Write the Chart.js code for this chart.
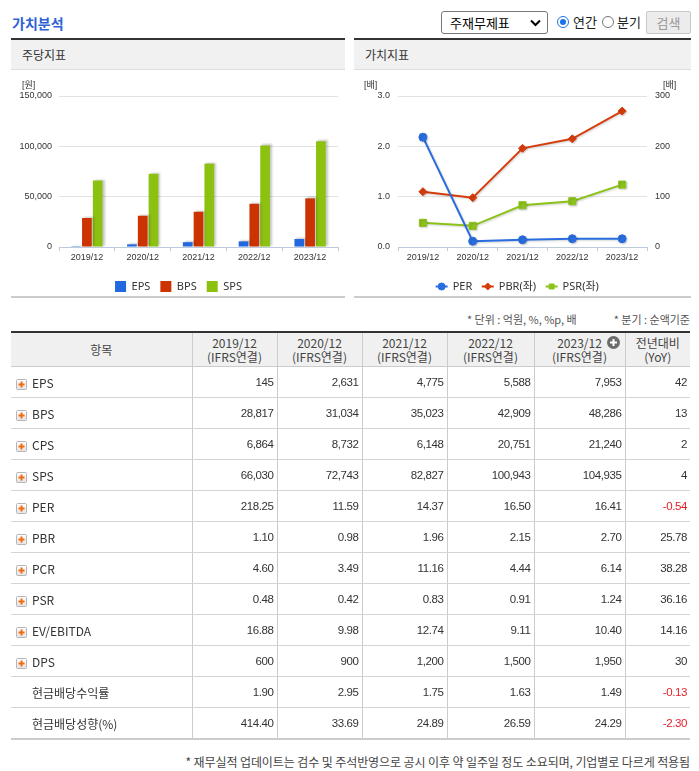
<!DOCTYPE html>
<html>
<head>
<meta charset="utf-8">
<script src="https://cdn.jsdelivr.net/npm/chart.js@4.4.1/dist/chart.umd.min.js"></script>
<style>
  body { margin: 0; background: #fff; font-family: "Noto Sans CJK KR", sans-serif; color: #333; }
  #wrap { position: relative; width: 699px; height: 771px; overflow: hidden; }
  .abs { position: absolute; }
  .title { left: 12px; top: 11px; font-size: 14px; font-weight: bold; color: #2f62d5; line-height: 24px; }
  .sel { left: 441px; top: 11px; width: 97px; height: 21px; border: 1px solid #777; border-radius: 3px;
         font-size: 13px; line-height: 21px; color: #000; padding-left: 8px; box-sizing: content-box; }
  .sel svg { position: absolute; right: 6px; top: 7px; }
  .radio { top: 16px; width: 10px; height: 10px; border-radius: 50%; border: 1px solid #767676; background: #fff; }
  .radio.on { border-color: #1a73e8; }
  .radio.on::after { content: ""; position: absolute; left: 2px; top: 2px; width: 6px; height: 6px; border-radius: 50%; background: #1a73e8; }
  .rlab { top: 11px; font-size: 13px; line-height: 22px; color: #222; }
  .btn { left: 646px; top: 11px; width: 43px; height: 21px; border: 1px solid #c8c8c8; border-radius: 2px;
         background: #ececec; color: #999; font-size: 13px; line-height: 21px; text-align: center; }
  .panel { top: 38px; height: 256px; border-top: 2px solid #333; border-bottom: 2px solid #ccc; }
  .panel .hd { height: 29px; background: #f1f1f1; border-bottom: 1px solid #dedede; font-size: 12px;
               line-height: 29px; padding-left: 11px; color: #333; }
  .panel canvas { position: absolute; left: 0; top: 30px; }
  .unit { font-size: 9px; color: #333; font-family: "Liberation Sans", "Noto Sans CJK KR", sans-serif; top: 79px; line-height: 12px; }
  .note { top: 311px; font-size: 11px; color: #555; line-height: 16px; white-space: nowrap; }
  table { position: absolute; left: 11px; top: 331px; width: 679px; border-collapse: collapse; table-layout: fixed;
          border-top: 2px solid #333; border-bottom: 2px solid #ccc; }
  th { background: #f0f0f0; font-weight: normal; font-size: 12px; line-height: 14px; height: 33px; padding: 0;
       border-bottom: 1px solid #ccc; border-left: 1px solid #ccc; color: #444; position: relative; }
  th:first-child { border-left: none; }
  td { height: 30px; padding: 0 3px 0 0; border-bottom: 1px solid #d4d4d4; border-left: 1px solid #ccc;
       text-align: right; font-family: "Liberation Sans", "Noto Sans CJK KR", sans-serif; font-size: 11.5px;
       letter-spacing: -0.4px; color: #333; }
  td:first-child { border-left: none; text-align: left; padding-left: 5px; font-family: "Noto Sans CJK KR", sans-serif;
                   font-size: 12px; letter-spacing: 0; }
  td.neg { color: #e4202a; }
  td .pl { display: inline-block; width: 11px; height: 11px; vertical-align: -2px; margin-right: 5px; }
  td .sp { display: inline-block; width: 16px; }
  .foot { right: 9px; top: 753px; font-size: 12px; letter-spacing: -0.1px; color: #444; line-height: 18px; white-space: nowrap; }
</style>
</head>
<body>
<div id="wrap">
  <div class="abs title">가치분석</div>
  <div class="abs sel">주재무제표<svg width="11" height="8" viewBox="0 0 11 8"><polyline points="1,1.5 5.5,6 10,1.5" fill="none" stroke="#000" stroke-width="2"/></svg></div>
  <div class="abs radio on" style="left:557px"></div>
  <div class="abs rlab" style="left:573px">연간</div>
  <div class="abs radio" style="left:602px"></div>
  <div class="abs rlab" style="left:617px">분기</div>
  <div class="abs btn">검색</div>

  <div class="abs panel" style="left:11px;width:334px">
    <div class="hd">주당지표</div>
    <canvas id="shareChart"></canvas>
  </div>
  <div class="abs unit" style="left:22px">[원]</div>

  <div class="abs panel" style="left:354px;width:337px">
    <div class="hd">가치지표</div>
    <canvas id="valueChart"></canvas>
  </div>
  <div class="abs unit" style="left:364px">[배]</div>
  <div class="abs unit" style="left:663px">[배]</div>

  <div class="abs note" style="left:467px">* 단위 : 억원, %, %p, 배</div>
  <div class="abs note" style="right:9px">* 분기 : 순액기준</div>

  <table id="tbl"></table>

  <div class="abs foot">* 재무실적 업데이트는 검수 및 주석반영으로 공시 이후 약 일주일 정도 소요되며, 기업별로 다르게 적용됨</div>
</div>

<script>
const years = ["2019/12", "2020/12", "2021/12", "2022/12", "2023/12"];
const epsValues = [145, 2631, 4775, 5588, 7953];
const bpsValues = [28817, 31034, 35023, 42909, 48286];
const spsValues = [66030, 72743, 82827, 100943, 104935];
const perValues = [218.25, 11.59, 14.37, 16.5, 16.41];
const pbrValues = [1.1, 0.98, 1.96, 2.15, 2.7];
const psrValues = [0.48, 0.42, 0.83, 0.91, 1.24];
const shareTicks = [0, 50000, 100000, 150000];
const ratioTicks = [0, 1, 2, 3];
const perTicks = [0, 100, 200, 300];

const colHeads = ["2019/12", "2020/12", "2021/12", "2022/12", "2023/12"];
const tableRows = [
  ["EPS", true, "145", "2,631", "4,775", "5,588", "7,953", "42"],
  ["BPS", true, "28,817", "31,034", "35,023", "42,909", "48,286", "13"],
  ["CPS", true, "6,864", "8,732", "6,148", "20,751", "21,240", "2"],
  ["SPS", true, "66,030", "72,743", "82,827", "100,943", "104,935", "4"],
  ["PER", true, "218.25", "11.59", "14.37", "16.50", "16.41", "-0.54"],
  ["PBR", true, "1.10", "0.98", "1.96", "2.15", "2.70", "25.78"],
  ["PCR", true, "4.60", "3.49", "11.16", "4.44", "6.14", "38.28"],
  ["PSR", true, "0.48", "0.42", "0.83", "0.91", "1.24", "36.16"],
  ["EV/EBITDA", true, "16.88", "9.98", "12.74", "9.11", "10.40", "14.16"],
  ["DPS", true, "600", "900", "1,200", "1,500", "1,950", "30"],
  ["현금배당수익률", false, "1.90", "2.95", "1.75", "1.63", "1.49", "-0.13"],
  ["현금배당성향(%)", false, "414.40", "33.69", "24.89", "26.59", "24.29", "-2.30"]
];

const tickFont = { family: "'Liberation Sans', 'Noto Sans CJK KR', sans-serif", size: 9 };
const legendFont = { family: "'Noto Sans', 'Noto Sans CJK KR', sans-serif", size: 11 };
const axisColor = "#bccbdb";
const gridColor = "#e2e2e2";

// soft shadow behind bars and lines
const shadow = {
  id: "shadow",
  beforeDatasetsDraw(chart, args, opts) {
    const c = chart.ctx;
    c.save();
    c.shadowColor = opts.color;
    c.shadowBlur = opts.blur;
    c.shadowOffsetX = opts.x;
    c.shadowOffsetY = opts.y;
  },
  afterDatasetsDraw(chart) {
    chart.ctx.restore();
  }
};

// short line segment behind each legend marker
const legendLines = {
  id: "legendLines",
  beforeDraw(chart) {
    const lg = chart.legend;
    if (!lg || !lg.legendHitBoxes) return;
    const c = chart.ctx;
    lg.legendHitBoxes.forEach((b, i) => {
      const ds = chart.data.datasets[i];
      const cx = b.left + 5.5, cy = b.top + 5.5;
      c.save();
      c.strokeStyle = ds.borderColor;
      c.lineWidth = 2;
      c.beginPath();
      c.moveTo(cx - 6, cy);
      c.lineTo(cx + 6, cy);
      c.stroke();
      c.restore();
    });
  }
};

function setTicks(list) {
  return axis => { axis.ticks = list.map(v => ({ value: v })); };
}

function xScale() {
  return {
    offset: true,
    border: { color: axisColor },
    grid: { offset: true, drawOnChartArea: false, color: axisColor, tickLength: 4 },
    ticks: { font: tickFont, color: "#333", padding: 1, maxRotation: 0 },
    afterFit: s => { s.height = 24; }
  };
}

function sizeCanvas(id, w, h) {
  const cv = document.getElementById(id);
  cv.style.width = w + "px";
  cv.style.height = h + "px";
  cv.width = w;
  cv.height = h;
  return cv;
}

new Chart(sizeCanvas("shareChart", 334, 232), {
  type: "bar",
  data: {
    labels: years,
    datasets: [
      { label: "EPS", data: epsValues, backgroundColor: "#2167de" },
      { label: "BPS", data: bpsValues, backgroundColor: "#cc3300" },
      { label: "SPS", data: spsValues, backgroundColor: "#8cc20f" }
    ]
  },
  plugins: [shadow],
  options: {
    responsive: false,
    animation: false,
    devicePixelRatio: 1,
    layout: { padding: { top: 26, left: 8, right: 7, bottom: 0 } },
    datasets: { bar: { barPercentage: 0.9, categoryPercentage: 0.58 } },
    scales: {
      x: xScale(),
      y: {
        min: 0,
        max: 150000,
        border: { display: false },
        grid: { color: gridColor, drawTicks: false },
        ticks: { font: tickFont, color: "#333", padding: 7, callback: v => v.toLocaleString("en-US") },
        afterBuildTicks: setTicks(shareTicks),
        afterFit: s => { s.width = 40; }
      }
    },
    plugins: {
      shadow: { color: "rgba(0,0,0,0.22)", blur: 2, x: 2, y: -1 },
      tooltip: { enabled: false },
      legend: {
        position: "bottom",
        labels: { font: legendFont, color: "#333", boxWidth: 11, boxHeight: 11, padding: 10 }
      }
    }
  }
});

new Chart(sizeCanvas("valueChart", 337, 232), {
  type: "line",
  data: {
    labels: years,
    datasets: [
      { label: "PER", data: perValues, yAxisID: "yR", borderColor: "#2a6ddf", backgroundColor: "#2a6ddf",
        pointStyle: "circle", pointRadius: 4 },
      { label: "PBR(좌)", data: pbrValues, yAxisID: "y", borderColor: "#d63c0c", backgroundColor: "#d63c0c",
        pointStyle: "rectRot", pointRadius: 4 },
      { label: "PSR(좌)", data: psrValues, yAxisID: "y", borderColor: "#8dc21c", backgroundColor: "#8dc21c",
        pointStyle: "rect", pointRadius: 5 }
    ]
  },
  plugins: [shadow, legendLines],
  options: {
    responsive: false,
    animation: false,
    devicePixelRatio: 1,
    layout: { padding: { top: 26, left: 4, right: 14, bottom: 0 } },
    elements: { line: { borderWidth: 2, tension: 0 }, point: { borderWidth: 1 } },
    scales: {
      x: xScale(),
      y: {
        position: "left",
        min: 0,
        max: 3,
        border: { display: false },
        grid: { color: gridColor, drawTicks: false },
        ticks: { font: tickFont, color: "#333", padding: 8, callback: v => v.toFixed(1) },
        afterBuildTicks: setTicks(ratioTicks),
        afterFit: s => { s.width = 40; }
      },
      yR: {
        position: "right",
        min: 0,
        max: 300,
        border: { display: false },
        grid: { display: false, drawTicks: false },
        ticks: { font: tickFont, color: "#333", padding: 8 },
        afterBuildTicks: setTicks(perTicks),
        afterFit: s => { s.width = 30; }
      }
    },
    plugins: {
      shadow: { color: "rgba(0,0,0,0.18)", blur: 2, x: 1, y: 1 },
      tooltip: { enabled: false },
      legend: {
        position: "bottom",
        labels: { font: legendFont, color: "#333", usePointStyle: true, boxWidth: 11, boxHeight: 5, padding: 10 }
      }
    }
  }
});

// table
const plusIcon = '<svg class="pl" viewBox="0 0 11 11"><defs><linearGradient id="g" x1="0" y1="0" x2="0" y2="1">' +
  '<stop offset="0" stop-color="#fff"/><stop offset="1" stop-color="#e4e4e4"/></linearGradient></defs>' +
  '<rect x="0.5" y="0.5" width="10" height="10" rx="1" fill="url(#g)" stroke="#b5b5b5"/>' +
  '<path d="M5.5 2.5v6M2.5 5.5h6" stroke="#f26b0f" stroke-width="2"/></svg>';
const moreIcon = '<svg style="position:absolute;left:72px;top:3px" width="13" height="13" viewBox="0 0 13 13">' +
  '<circle cx="6.5" cy="6.5" r="6.5" fill="#6b6b6b"/><path d="M6.5 3v7M3 6.5h7" stroke="#fff" stroke-width="2"/></svg>';

const tbl = document.getElementById("tbl");
let html = '<colgroup><col style="width:181px"><col style="width:85px"><col style="width:85px"><col style="width:85px">' +
  '<col style="width:87px"><col style="width:91px"><col style="width:65px"></colgroup>';
html += "<tr><th>항목</th>";
colHeads.forEach((h, i) => {
  html += "<th>" + h + "<br>(IFRS연결)" + (i === colHeads.length - 1 ? moreIcon : "") + "</th>";
});
html += "<th>전년대비<br>(YoY)</th></tr>";
tableRows.forEach(r => {
  html += "<tr><td>" + (r[1] ? plusIcon : '<span class="sp"></span>') + r[0] + "</td>";
  r.slice(2).forEach((v, i) => {
    const neg = i === 5 && v.startsWith("-");
    html += "<td" + (neg ? ' class="neg"' : "") + ">" + v + "</td>";
  });
  html += "</tr>";
});
tbl.innerHTML = html;
</script>
</body>
</html>
